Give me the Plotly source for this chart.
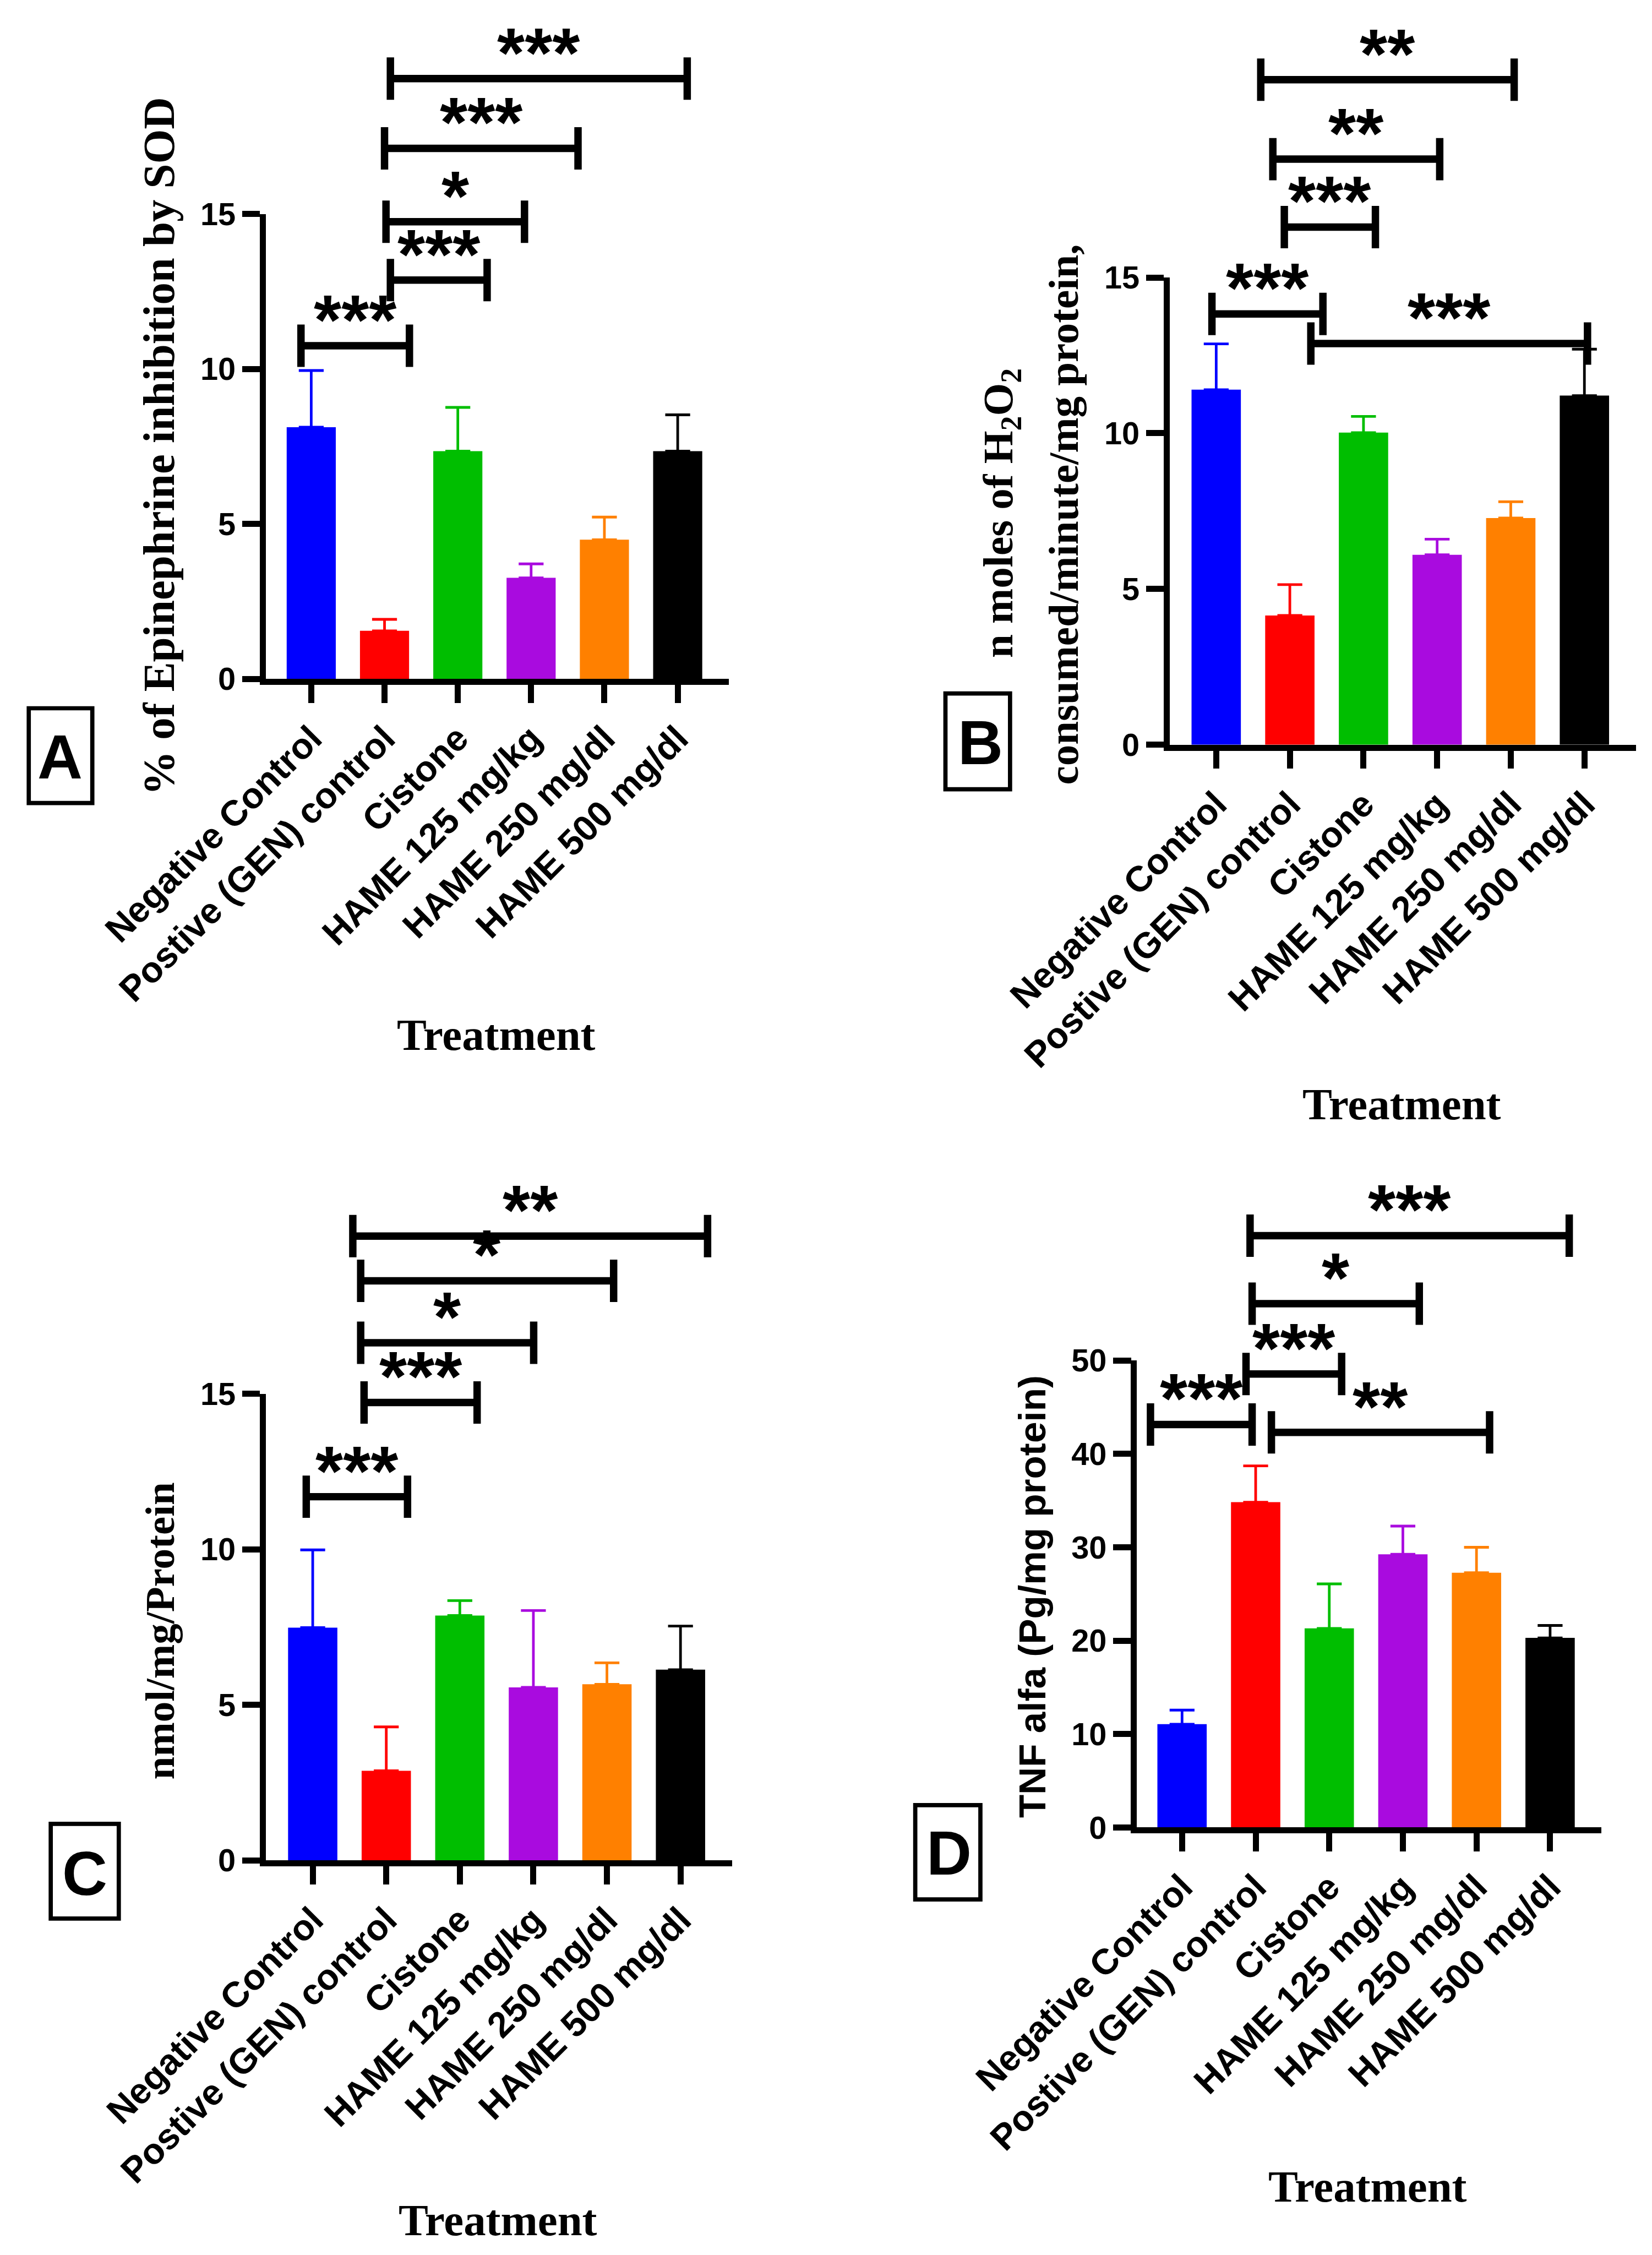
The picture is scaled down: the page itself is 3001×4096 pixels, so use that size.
import plotly.graph_objects as go

# ---------------- data ----------------
categories = ["Negative Control", "Postive (GEN) control", "Cistone",
              "HAME 125 mg/kg", "HAME 250 mg/dl", "HAME 500 mg/dl"]
bar_colors = ["#0000FF", "#FF0000", "#00BE00", "#A90BDF", "#FF8000", "#000000"]

# Panel A: SOD
sod_mean = [8.12, 1.55, 7.35, 3.26, 4.49, 7.35]
sod_sem = [1.83, 0.37, 1.41, 0.45, 0.73, 1.17]
sod_ticks = [0, 5, 10, 15]
sod_br_left = [1.08, 1.00, 1.02, 1.08, -0.14]
sod_br_right = [5.13, 3.64, 2.91, 2.40, 1.34]
sod_br_level = [19.37, 17.12, 14.75, 12.87, 10.75]
sod_br_label = ["***", "***", "*", "***", "***"]

# Panel B: catalase
cat_mean = [11.40, 4.15, 10.02, 6.10, 7.28, 11.21]
cat_sem = [1.47, 0.99, 0.52, 0.50, 0.52, 1.49]
cat_ticks = [0, 5, 10, 15]
cat_br_left = [0.605, 0.769, 0.925, -0.058, 1.285]
cat_br_right = [4.046, 3.035, 2.162, 1.449, 5.042]
cat_br_level = [21.35, 18.80, 16.62, 13.83, 12.88]
cat_br_label = ["**", "**", "***", "***", "***"]

# Panel C: nmol/mg protein
mda_mean = [7.48, 2.88, 7.87, 5.56, 5.66, 6.13]
mda_sem = [2.50, 1.41, 0.48, 2.47, 0.69, 1.40]
mda_ticks = [0, 5, 10, 15]
mda_br_left = [0.545, 0.652, 0.652, 0.698, -0.088]
mda_br_right = [5.368, 4.091, 3.004, 2.235, 1.289]
mda_br_level = [20.07, 18.63, 16.64, 14.72, 11.69]
mda_br_label = ["**", "*", "*", "***", "***"]

# Panel D: TNF alfa
tnf_mean = [11.06, 34.83, 21.32, 29.25, 27.28, 20.30]
tnf_sem = [1.51, 3.89, 4.76, 3.02, 2.72, 1.33]
tnf_ticks = [0, 10, 20, 30, 40, 50]
tnf_br_left = [0.924, 0.952, 0.869, -0.429, 1.214]
tnf_br_right = [5.260, 3.223, 2.168, 0.952, 4.178]
tnf_br_level = [63.36, 56.08, 48.55, 43.15, 42.31]
tnf_br_label = ["***", "*", "***", "***", "**"]

# ---------------- geometry / style ----------------
S = 0.962
W, H = 3001, 4096


def fx(x):
    return x * S / W


def fy(y):
    return 1 - y * S / H


SANS = "Liberation Sans, Arial, Helvetica, sans-serif"
SERIF = "Liberation Serif, Times New Roman, serif"

AX_LW = 11.0
TICK_LEN = 34.0
BR_LW = 14.0
BR_HALF = 40.0
BAR_W = 0.67
X_MAX = 5.7
ERR_W = 23.5
ERR_T = 5.0
STAR_SIZE = 134.0
STAR_SHIFT = 50.0
YTICK_SIZE = 60.0
XTICK_SIZE = 68.0

panels = [
    dict(mean=sod_mean, sem=sod_sem, ticks=sod_ticks, bl=sod_br_left, br=sod_br_right,
         lv=sod_br_level, lab=sod_br_label,
         axis_x=488.5, c0=579.4, sp=138.4, y0=1279.0, ytop=395.8, ymax=15),
    dict(mean=cat_mean, sem=cat_sem, ticks=cat_ticks, bl=cat_br_left, br=cat_br_right,
         lv=cat_br_level, lab=cat_br_label,
         axis_x=2195.4, c0=2288.3, sp=139.06, y0=1403.4, ytop=515.7, ymax=15),
    dict(mean=mda_mean, sem=mda_sem, ticks=mda_ticks, bl=mda_br_left, br=mda_br_right,
         lv=mda_br_level, lab=mda_br_label,
         axis_x=488.4, c0=582.2, sp=138.9, y0=3509.8, ytop=2623.3, ymax=15),
    dict(mean=tnf_mean, sem=tnf_sem, ticks=tnf_ticks, bl=tnf_br_left, br=tnf_br_right,
         lv=tnf_br_level, lab=tnf_br_label,
         axis_x=2133.2, c0=2223.8, sp=139.0, y0=3447.8, ytop=2560.5, ymax=50),
]

fig = go.Figure()
layout_axes = {}
shapes = []
annotations = []

for i, p in enumerate(panels):
    n = "" if i == 0 else str(i + 1)
    xa, ya = "x" + n, "y" + n
    left_px = p["axis_x"] + AX_LW / 2
    right_px = p["c0"] + X_MAX * p["sp"]
    x_lo = (left_px - p["c0"]) / p["sp"]
    bottom_px = p["y0"] - AX_LW / 2
    top_px = p["ytop"]
    dom_len = bottom_px - top_px

    layout_axes["xaxis" + n] = dict(
        domain=[fx(left_px), fx(right_px)], range=[x_lo, X_MAX], anchor=ya,
        automargin=False,
        tickmode="array", tickvals=list(range(len(categories))), ticktext=categories,
        tickangle=-45, ticks="outside", ticklen=TICK_LEN * S, tickwidth=AX_LW * S,
        tickcolor="black", showline=True, linewidth=AX_LW * S, linecolor="black",
        showgrid=False, zeroline=False, fixedrange=True,
        tickfont=dict(family=SANS, size=XTICK_SIZE * S, color="black", weight="bold"))
    layout_axes["yaxis" + n] = dict(
        domain=[fy(bottom_px), fy(top_px)], range=[0, p["ymax"]], anchor=xa,
        automargin=False,
        tickmode="array", tickvals=p["ticks"], ticktext=[str(t) for t in p["ticks"]],
        ticks="outside", ticklen=TICK_LEN * S, tickwidth=AX_LW * S, tickcolor="black",
        showline=True, linewidth=AX_LW * S, linecolor="black",
        showgrid=False, zeroline=False, fixedrange=True,
        tickfont=dict(family=SANS, size=YTICK_SIZE * S, color="black", weight="bold"))

    for j in range(len(categories)):
        fig.add_trace(go.Bar(
            x=[j], y=[p["mean"][j]], width=BAR_W,
            marker=dict(color=bar_colors[j], line=dict(width=0)),
            error_y=dict(type="data", symmetric=False, array=[p["sem"][j]], arrayminus=[0],
                         color=bar_colors[j], thickness=ERR_T * S, width=ERR_W * S),
            xaxis=xa, yaxis=ya, showlegend=False, hoverinfo="skip"))

    h = BR_HALF / dom_len
    for x1, x2, lv, lab in zip(p["bl"], p["br"], p["lv"], p["lab"]):
        yd = lv / p["ymax"]
        common = dict(type="line", xref=xa, yref=ya + " domain",
                      line=dict(color="black", width=BR_LW * S))
        shapes.append(dict(x0=x1, x1=x2, y0=yd, y1=yd, **common))
        shapes.append(dict(x0=x1, x1=x1, y0=yd - h, y1=yd + h, **common))
        shapes.append(dict(x0=x2, x1=x2, y0=yd - h, y1=yd + h, **common))
        annotations.append(dict(
            x=(x1 + x2) / 2, y=yd, xref=xa, yref=ya + " domain", text=lab,
            showarrow=False, xanchor="center", yanchor="middle", yshift=STAR_SHIFT * S,
            font=dict(family=SANS, size=STAR_SIZE * S, color="black", weight="bold")))

# axis titles
y_titles = [
    ("% of Epinephrine inhibition by SOD", SERIF, 84, 291.6, 835),
    ("n moles of H<sub>2</sub>O<sub>2</sub>", SERIF, 80, 1882, 960),
    ("consumed/minute/mg protein,", SERIF, 80, 2000, 963),
    ("nmol/mg/Protein", SERIF, 78, 293.4, 3071),
    ("TNF alfa (Pg/mg protein)", SANS, 72, 1940, 3006),
]
for txt, fam, size, cx, cy in y_titles:
    annotations.append(dict(
        x=fx(cx), y=fy(cy), xref="paper", yref="paper", text=txt, textangle=-90,
        showarrow=False, xanchor="center", yanchor="middle",
        font=dict(family=fam, size=size * S, color="black", weight="bold")))

x_titles = [(928.7, 1945.4), (2638.9, 2076.4), (932.0, 4183.3), (2574.7, 4120.4)]
for cx, cy in x_titles:
    annotations.append(dict(
        x=fx(cx), y=fy(cy), xref="paper", yref="paper", text="Treatment",
        showarrow=False, xanchor="center", yanchor="middle",
        font=dict(family=SERIF, size=84 * S, color="black", weight="bold")))

# panel letters in boxes
letters = [
    ("A", 104.9, 1420.5, (46, 1329, 166, 1508)),
    ("B", 1842.6, 1393.0, (1777, 1301, 1899, 1482)),
    ("C", 151.7, 3528.5, (87.5, 3435.5, 216, 3614.2)),
    ("D", 1783.7, 3490.0, (1720, 3400, 1843, 3578)),
]
for let, cx, cy, box in letters:
    annotations.append(dict(
        x=fx(cx), y=fy(cy), xref="paper", yref="paper", text=let,
        showarrow=False, xanchor="center", yanchor="middle",
        font=dict(family=SANS, size=118 * S, color="black", weight="bold")))
    shapes.append(dict(type="rect", xref="paper", yref="paper",
                       x0=fx(box[0]), x1=fx(box[2]), y0=fy(box[3]), y1=fy(box[1]),
                       line=dict(color="black", width=8 * S), fillcolor="rgba(0,0,0,0)"))

fig.update_layout(
    template="none",
    width=W, height=H, margin=dict(l=0, r=0, t=0, b=0, autoexpand=False),
    paper_bgcolor="white", plot_bgcolor="white",
    barmode="overlay", showlegend=False,
    shapes=shapes, annotations=annotations,
    **layout_axes)

fig.write_html("out.html")
